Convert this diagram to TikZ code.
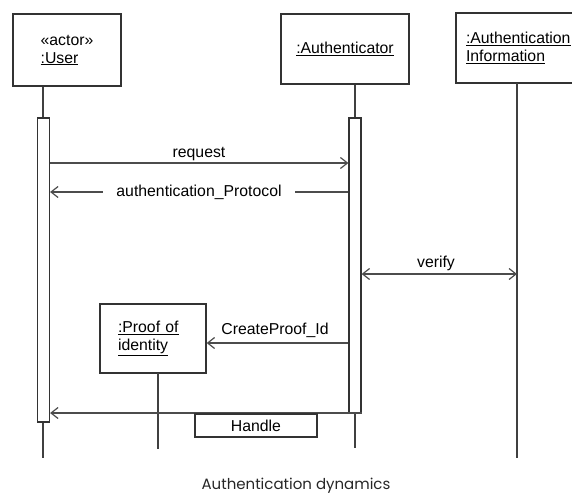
\documentclass[tikz,border=0pt]{standalone}
\usepackage{fontspec}
\setmainfont{Liberation Sans}
\newfontfamily\capfont{Poppins}
\usetikzlibrary{arrows.meta}
\begin{document}
\begin{tikzpicture}[x=1pt,y=-1pt,
  every node/.style={font=\fontsize{15.8}{18}\selectfont},
  objbox/.style={draw=black!80, line width=1.3pt, rectangle, fill=white, inner sep=0pt},
  actbar/.style={draw=black!80, line width=1.2pt, rectangle, fill=white, inner sep=0pt, minimum width=12pt},
  lifeline/.style={draw=black!75, line width=1.3pt},
  msg/.style={draw=black!70, line width=1.3pt, -{Straight Barb[length=7pt,width=11pt,line width=1.2pt]}},
  dmsg/.style={draw=black!70, line width=1.3pt, {Straight Barb[length=7pt,width=11pt,line width=1.2pt]}-{Straight Barb[length=7pt,width=11pt,line width=1.2pt]}},
  msglabel/.style={inner sep=0pt, anchor=base}]
\useasboundingbox (0,0) rectangle (572,496);
\clip (0,0) rectangle (572,496);

% object boxes
\node[objbox, minimum width=108pt, minimum height=72pt, align=left] (user) at (67,50)
  {«actor»\\\underline{:User}};
\node[objbox, minimum width=128pt, minimum height=70pt] (auth) at (345,49)
  {\underline{:Authenticator}};
\node[objbox, minimum width=130pt, minimum height=70pt, text width=110pt, inner xsep=10pt, align=left] (info) at (521,48)
  {\underline{:Authentication}\\\underline{Information}};
\node[objbox, minimum width=106pt, minimum height=69pt, text width=70pt, inner xsep=18pt, align=left] (proof) at (153,338.5)
  {\underline{:Proof of}\\\underline{identity}};

% lifeline end coordinates
\coordinate (userend) at (43,458);
\coordinate (authend) at (355,448);
\coordinate (infotop) at (517,83);
\coordinate (infoend) at (517,458);
\coordinate (prooftop) at (158,373);
\coordinate (proofend) at (158,449);

\draw[lifeline] (user.south -| userend) -- (userend);
\draw[lifeline] (auth.south -| authend) -- (authend);
\draw[lifeline] (infotop) -- (infoend);
\draw[lifeline] (prooftop) -- (proofend);

% activation bars
\node[actbar, minimum height=304pt] (ubar) at (43.5,270) {};
\node[actbar, minimum height=295pt] (abar) at (355,265.5) {};

% message rows
\coordinate (r1) at (0,163);
\coordinate (r2) at (0,192);
\coordinate (r3) at (0,274);
\coordinate (r4) at (0,343);
\coordinate (r5) at (0,413);

\draw[msg] (ubar.east |- r1) -- (abar.west |- r1);
\node[msglabel] (lreq) at (199,157) {request};

\draw[msg] (abar.west |- r2) -- (ubar.east |- r2);
\node[fill=white, inner xsep=13pt, inner ysep=2pt] (lproto) at (199,192) {authentication\_Protocol};

\draw[dmsg] (abar.east |- r3) -- (infotop |- r3);
\node[msglabel] (lver) at (436,267) {verify};

\draw[msg] (abar.west |- r4) -- (proof.east |- r4);
\node[msglabel] (lcp) at (275,334) {CreateProof\_Id};

\draw[msg] (abar.east |- r5) -- (ubar.east |- r5);
\node[draw=black!80, line width=1.3pt, minimum width=122pt, minimum height=23pt, inner sep=0pt] (handle) at (256,425.5) {Handle};

% caption
\node[font=\capfont\fontsize{15}{17}\selectfont, text=black!85] (cap) at (296,486) {Authentication dynamics};
\end{tikzpicture}
\end{document}
